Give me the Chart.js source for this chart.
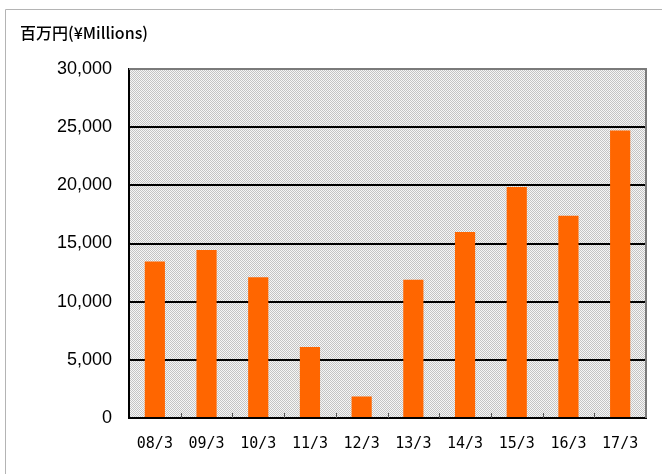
<!DOCTYPE html>
<html>
<head>
<meta charset="utf-8">
<script src="https://cdn.jsdelivr.net/npm/chart.js@4.4.1/dist/chart.umd.min.js"></script>
<style>
  body { margin: 0; background: #fff; }
  #wrap { width: 662px; height: 474px; }
</style>
</head>
<body>
<div id="wrap"><canvas id="salesChart" width="662" height="474"></canvas></div>
<script>
const categories = ['08/3', '09/3', '10/3', '11/3', '12/3', '13/3', '14/3', '15/3', '16/3', '17/3'];
const salesValues = [13450, 14450, 12100, 6100, 1850, 11880, 15980, 19850, 17380, 24720];
const yTicks = [0, 5000, 10000, 15000, 20000, 25000, 30000];
const unitLabel = '百万円(¥Millions)';

function makeCheckerPattern(ctx) {
    const c = document.createElement('canvas');
    c.width = 2; c.height = 2;
    const p = c.getContext('2d');
    p.fillStyle = '#f6f6f6';
    p.fillRect(0, 0, 2, 2);
    p.fillStyle = '#c4c4c4';
    p.fillRect(0, 0, 1, 1);
    p.fillRect(1, 1, 1, 1);
    return ctx.createPattern(c, 'repeat');
}

const framePlugin = {
    id: 'frame',
    beforeDraw(chart) {
        const ctx = chart.ctx;
        const a = chart.chartArea;
        ctx.save();
        // outer light border
        ctx.strokeStyle = '#b4b4b4';
        ctx.lineWidth = 1;
        ctx.beginPath();
        ctx.moveTo(5.5, 474);
        ctx.lineTo(5.5, 9.5);
        ctx.lineTo(662, 9.5);
        ctx.stroke();
        // hatched plot background
        ctx.fillStyle = makeCheckerPattern(ctx);
        ctx.fillRect(a.left, a.top, a.right - a.left, a.bottom - a.top);
        // unit label
        ctx.fillStyle = '#000';
        ctx.font = '500 16px "Noto Sans CJK JP", sans-serif';
        ctx.textBaseline = 'middle';
        ctx.fillText(unitLabel, 20, 33);
        ctx.restore();
    },
    afterDatasetsDraw(chart) {
        const ctx = chart.ctx;
        const a = chart.chartArea;
        const xs = chart.scales.x;
        ctx.save();
        // top and right border
        ctx.strokeStyle = '#7a7a7a';
        ctx.lineWidth = 2;
        ctx.beginPath();
        ctx.moveTo(a.left, a.top);
        ctx.lineTo(a.right, a.top);
        ctx.lineTo(a.right, a.bottom);
        ctx.stroke();
        // small category ticks pointing up
        ctx.strokeStyle = '#555';
        ctx.lineWidth = 1;
        const n = categories.length;
        for (let i = 1; i < n; i++) {
            const x = Math.round((xs.getPixelForValue(i - 1) + xs.getPixelForValue(i)) / 2) + 0.5;
            ctx.beginPath();
            ctx.moveTo(x, a.bottom);
            ctx.lineTo(x, a.bottom - 5);
            ctx.stroke();
        }
        ctx.restore();
    }
};

const ctx = document.getElementById('salesChart').getContext('2d');
new Chart(ctx, {
    type: 'bar',
    data: {
        labels: categories,
        datasets: [{
            data: salesValues,
            backgroundColor: '#ff6600',
            borderWidth: 0,
            barPercentage: 0.39,
            categoryPercentage: 1.0
        }]
    },
    options: {
        responsive: false,
        animation: false,
        devicePixelRatio: 1,
        layout: { padding: { top: 69, right: 16, left: 0, bottom: 0 } },
        plugins: {
            legend: { display: false },
            tooltip: { enabled: false }
        },
        scales: {
            x: {
                grid: { display: false },
                border: { display: true, color: '#000', width: 2 },
                ticks: {
                    color: '#000',
                    padding: 9,
                    font: { family: '"DejaVu Sans Mono", monospace', size: 15 }
                },
                afterFit(scale) { scale.height = 56; }
            },
            y: {
                min: 0,
                max: 30000,
                afterBuildTicks(scale) {
                    scale.ticks = yTicks.map(v => ({ value: v }));
                },
                grid: {
                    color: c => (c.tick.value === 0 || c.tick.value === 30000) ? 'rgba(0,0,0,0)' : '#000',
                    lineWidth: 2,
                    drawTicks: false
                },
                border: { display: true, color: '#000', width: 2 },
                ticks: {
                    color: '#000',
                    padding: 17,
                    font: { family: '"Liberation Sans", Arial, sans-serif', size: 18 },
                    callback: v => v.toLocaleString('en-US')
                },
                afterFit(scale) { scale.width = 129; }
            }
        }
    },
    plugins: [framePlugin]
});
</script>
</body>
</html>
